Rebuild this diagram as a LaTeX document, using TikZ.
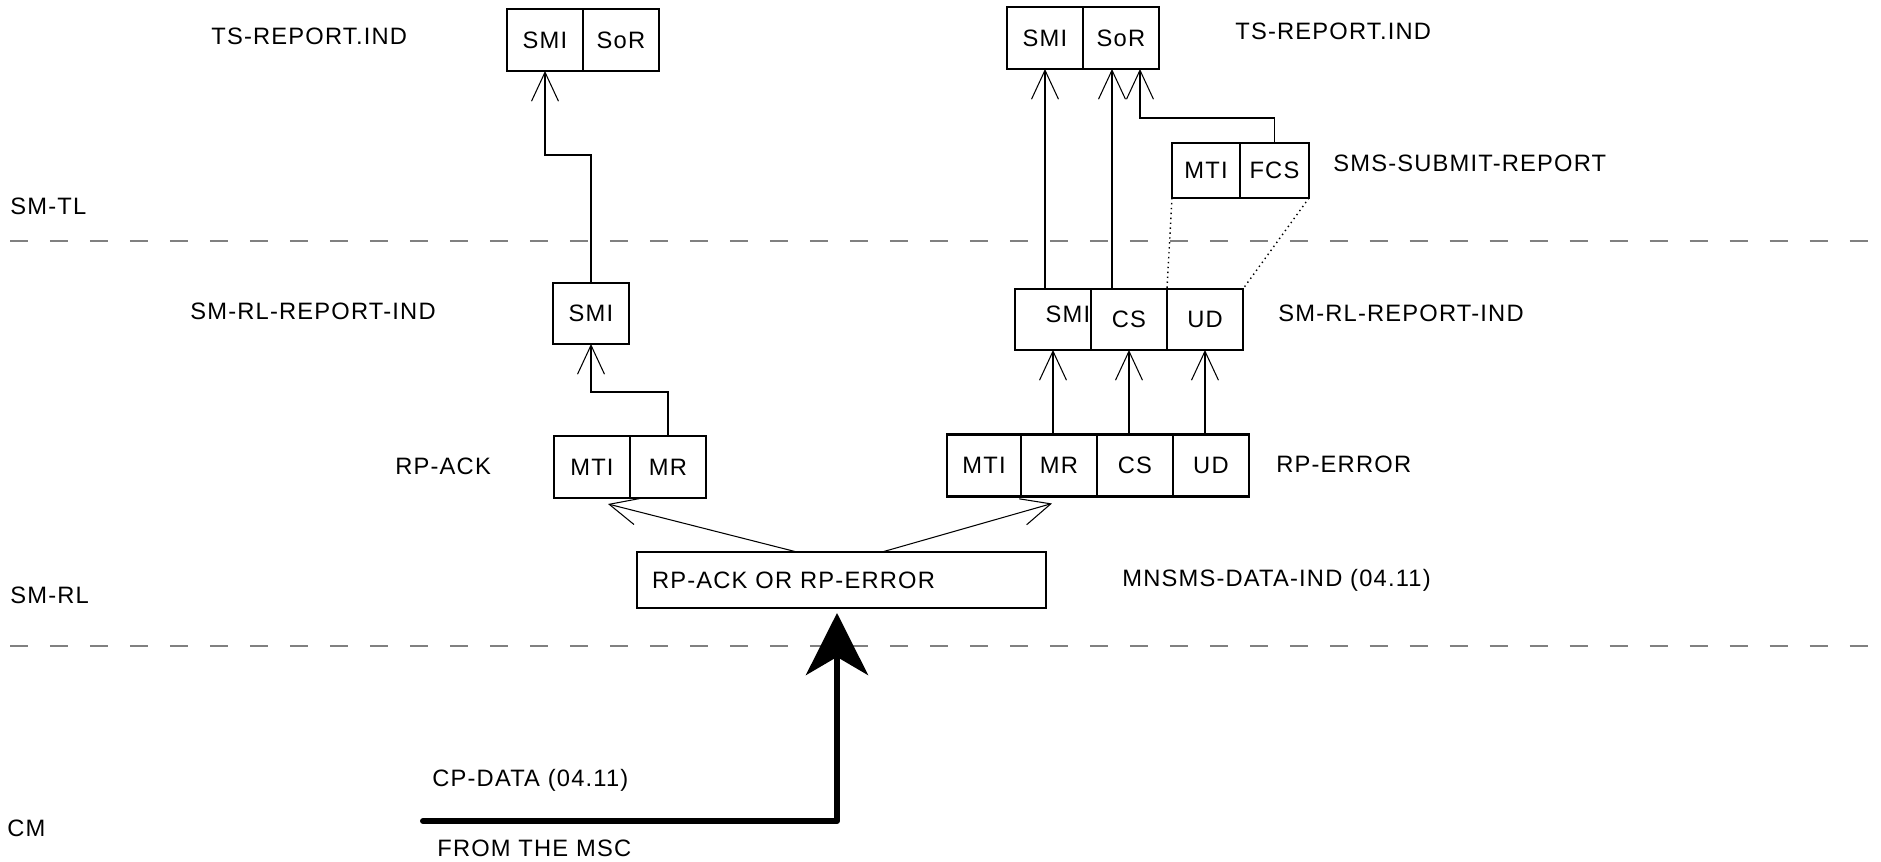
\documentclass[tikz,border=0pt]{standalone}
\usepackage{fontspec}
\setmainfont{Liberation Sans}[LetterSpace=5]
\usepackage{tikz}
\usetikzlibrary{arrows.meta,positioning,calc}

\begin{document}
\begin{tikzpicture}[
    x=0.02cm, y=-0.02cm,
    cell/.style={rectangle, draw, line width=1.5pt, minimum width=1.52cm,
                 minimum height=1.24cm, inner sep=0pt, outer sep=0pt,
                 font=\fontsize{13.5}{16}\selectfont},
    tag/.style={anchor=west, inner sep=0pt, font=\fontsize{13.5}{16}\selectfont},
    arr/.style={-{Straight Barb[length=0.58cm, width=0.54cm]}, line width=0.6pt},
    layer/.style={gray, line width=0.7pt, dash pattern=on 0.36cm off 0.44cm},
    big/.style={-{Stealth[length=1.24cm, width=1.24cm, inset=0.36cm]},
                line width=0.12cm, line cap=round, line join=round}
]
    \useasboundingbox (0,0) rectangle (1881,862);

    % Layer boundaries
    \draw[layer] (10,241) -- (1881,241);
    \draw[layer] (10,646) -- (1881,646);

    % Layer names
    \node[tag] (tl) at (10,206) {SM-TL};
    \node[tag] (rl) at (10,595) {SM-RL};
    \node[tag] (cm) at (7,828) {CM};

    % Left branch (RP-ACK)
    \node[cell] (tsmiA) at (545,40) {SMI};
    \node[cell, right=0pt of tsmiA] (tsorA) {SoR};
    \node[cell, minimum height=1.22cm] (rsmiA) at (591,313.5) {SMI};
    \node[cell] (amti) at (592,467) {MTI};
    \node[cell, right=0pt of amti] (amr) {MR};

    % Right branch (RP-ERROR)
    \node[cell] (tsmiB) at (1045,38) {SMI};
    \node[cell, right=0pt of tsmiB] (tsorB) {SoR};
    \node[cell, minimum width=1.36cm, minimum height=1.1cm] (smti) at (1206,170.5) {MTI};
    \node[cell, minimum width=1.38cm, minimum height=1.1cm, right=0pt of smti] (sfcs) {FCS};
    \node[cell, minimum height=1.22cm] (rsmiB) at (1053,319.5) {\raisebox{0.2cm}{\hspace*{0.6cm}SMI}};
    \node[cell, minimum height=1.22cm, right=0pt of rsmiB] (rcs) {CS};
    \node[cell, minimum height=1.22cm, right=0pt of rcs] (rud) {UD};
    \node[cell, minimum width=1.48cm] (emti) at (984,465.5) {MTI};
    \node[cell, right=0pt of emti] (emr) {MR};
    \node[cell, right=0pt of emr] (ecs) {CS};
    \node[cell, right=0pt of ecs] (eud) {UD};

    % Received message
    \node[cell, minimum width=8.18cm, minimum height=1.12cm, text width=7.58cm,
          align=left, inner xsep=0.3cm] (data) at (841.5,580) {RP-ACK OR RP-ERROR};

    % Primitive names
    \node[tag] (repA) at (211,36) {TS-REPORT.IND};
    \node[tag] (repB) at (1235,31) {TS-REPORT.IND};
    \node[tag] (subrep) at (1333,163) {SMS-SUBMIT-REPORT};
    \node[tag] (rlindA) at (190,311) {SM-RL-REPORT-IND};
    \node[tag] (rlindB) at (1278,313) {SM-RL-REPORT-IND};
    \node[tag] (ack) at (395,466) {RP-ACK};
    \node[tag] (err) at (1276,464) {RP-ERROR};
    \node[tag] (mnsms) at (1122,580) {MNSMS-DATA-IND (04.11)};
    \node[tag] (cpdata) at (432,780) {CP-DATA (04.11)};
    \node[tag] (from) at (437,848) {FROM THE MSC};

    % Left: RP-ACK up to TS-REPORT.IND
    \draw[arr] (amr.north) -- ++(0,-44) -| (rsmiA.south);
    \draw[arr] (rsmiA.north) -- ++(0,-128) -| (tsmiA.south);

    % Right: RP-ERROR up to SM-RL-REPORT-IND
    \draw[arr] (rsmiB.south |- emr.north) -- (rsmiB.south);
    \draw[arr] (rcs.south |- ecs.north) -- (rcs.south);
    \draw[arr] (rud.south |- eud.north) -- (rud.south);

    % Right: SM-RL-REPORT-IND up to TS-REPORT.IND
    \coordinate (sorin) at ([xshift=-0.18cm]tsorB.south);
    \coordinate (fcsin) at ([xshift=0.38cm]tsorB.south);
    \draw[arr] (tsmiB.south |- rsmiB.north) -- (tsmiB.south);
    \draw[arr] (sorin |- rcs.north) -- (sorin);
    \draw[arr] (sfcs.north) -- ++(0,-25) -| (fcsin);

    % UD carries the SMS-SUBMIT-REPORT
    \draw[dotted, line width=0.8pt] (smti.south west) -- (rud.north west);
    \draw[dotted, line width=0.8pt] (sfcs.south east) -- (rud.north east);

    % Split of the received message
    \coordinate (ackin) at ([xshift=0.32cm,yshift=-0.12cm]amti.south);
    \coordinate (errin) at ([xshift=-0.14cm,yshift=-0.14cm]emr.south);
    \draw[arr] ([xshift=-0.89cm]data.north) -- (ackin);
    \draw[arr] ([xshift=0.81cm]data.north) -- (errin);

    % From the MSC
    \coordinate (mscin) at (423,821);
    \coordinate (datain) at ([xshift=-0.09cm,yshift=-0.1cm]data.south);
    \draw[big] (mscin) -| (datain);
\end{tikzpicture}
\end{document}
